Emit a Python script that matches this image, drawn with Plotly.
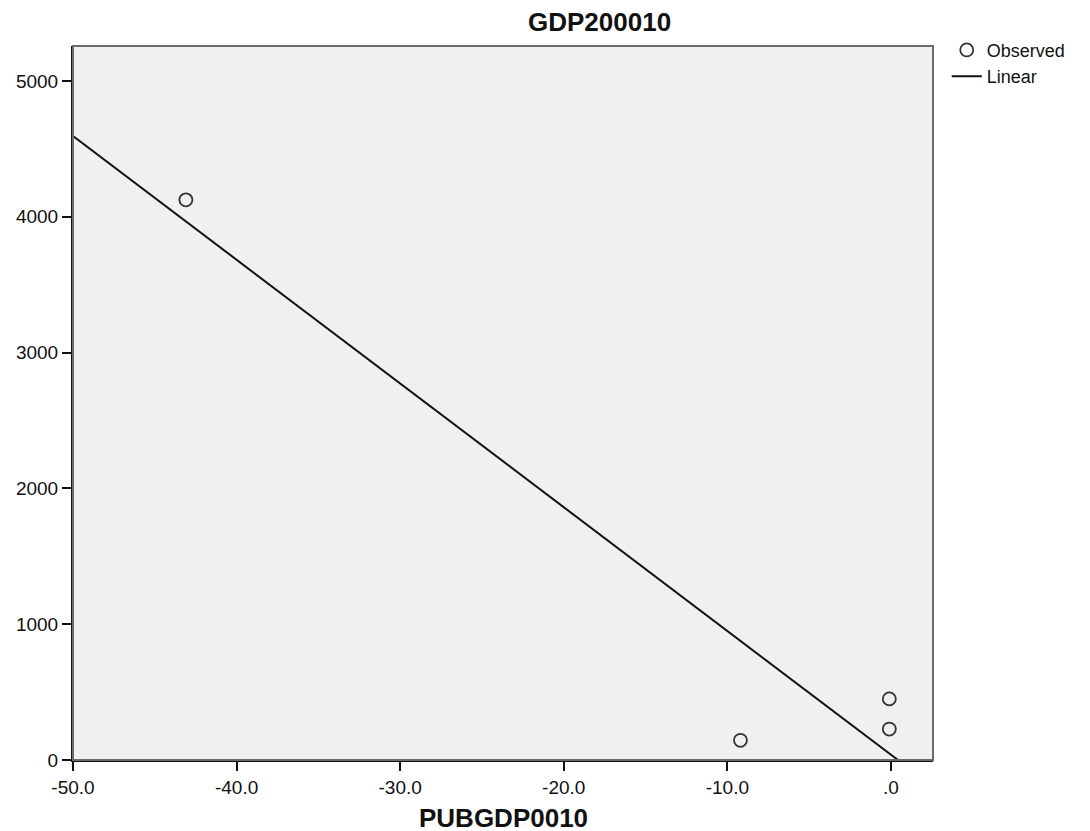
import plotly.graph_objects as go

obs_x = [-43.1, -9.2, -0.1, -0.1]
obs_y = [4125, 145, 450, 228]

# Linear fit line endpoints
fit_x = [-50.0, 0.43]
fit_y = [4595, 0]

x_ticks = [-50, -40, -30, -20, -10, 0]
x_tick_text = ["-50.0", "-40.0", "-30.0", "-20.0", "-10.0", ".0"]
y_ticks = [0, 1000, 2000, 3000, 4000, 5000]
y_tick_text = ["0", "1000", "2000", "3000", "4000", "5000"]

x_range = [-50, 2.57]
y_range = [0, 5258]

font_family = "Liberation Sans, Arial, sans-serif"

fig = go.Figure()
fig.add_trace(go.Scatter(
    x=obs_x, y=obs_y, mode="markers", name="Observed",
    marker=dict(symbol="circle-open", size=13, color="#333333", line=dict(width=1.8, color="#333333")),
))
fig.add_trace(go.Scatter(
    x=fit_x, y=fit_y, mode="lines", name="Linear",
    line=dict(color="#111111", width=2),
))

fig.update_layout(
    width=1090, height=831,
    margin=dict(l=65, r=165, t=38, b=79, autoexpand=False),
    paper_bgcolor="white",
    plot_bgcolor="#f0f0f0",
    font=dict(family=font_family, size=18, color="#111111"),
    showlegend=True,
    legend=dict(x=1.016, y=1.02, xanchor="left", yanchor="top",
                font=dict(size=18, color="#111111"), bgcolor="rgba(0,0,0,0)",
                tracegroupgap=0, itemwidth=30),
    annotations=[
        dict(text="<b>GDP200010</b>", xref="paper", yref="paper", x=0.612, y=1.0,
             xanchor="center", yanchor="middle", yshift=24, showarrow=False,
             font=dict(size=26, family=font_family, color="#111111")),
        dict(text="<b>PUBGDP0010</b>", xref="paper", yref="paper", x=0.5, y=0.0,
             xanchor="center", yanchor="middle", yshift=-58, showarrow=False,
             font=dict(size=26, family=font_family, color="#111111")),
    ],
    shapes=[
        dict(type="rect", xref="paper", yref="paper", x0=0, y0=0, x1=1, y1=1,
             line=dict(color="#6b6b6b", width=2), layer="above"),
    ],
)

fig.update_xaxes(
    range=x_range, tickvals=x_ticks, ticktext=x_tick_text,
    showgrid=False, zeroline=False,
    showline=True, linecolor="#111111", linewidth=2,
    ticks="outside", ticklen=9, tickwidth=2, tickcolor="#111111",
    tickfont=dict(size=19),
)
fig.update_yaxes(
    range=y_range, tickvals=y_ticks, ticktext=y_tick_text,
    showgrid=False, zeroline=False,
    showline=True, linecolor="#111111", linewidth=2,
    ticks="outside", ticklen=9, tickwidth=2, tickcolor="#111111",
    tickfont=dict(size=19),
)

fig.write_html("out.html")
